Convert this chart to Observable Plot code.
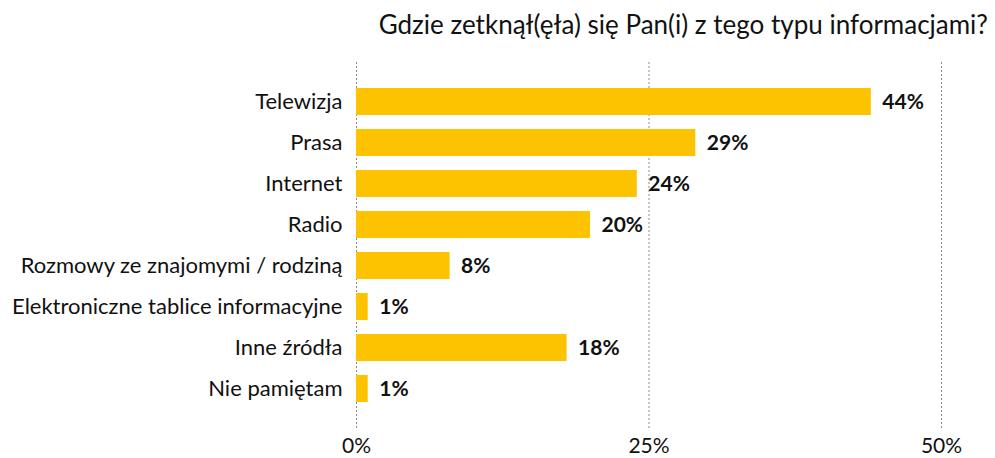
<!DOCTYPE html>
<html>
<head>
<meta charset="utf-8">
<script src="https://cdn.jsdelivr.net/npm/d3@7"></script>
<script src="https://cdn.jsdelivr.net/npm/@observablehq/plot@0.6"></script>
<style>
  html, body { margin: 0; padding: 0; background: #fff; }
  body { width: 995px; height: 458px; overflow: hidden; font-family: Lato, "Noto Sans", sans-serif; }
  #title { height: 60px; box-sizing: border-box; text-align: right; padding-right: 7px; padding-top: 9px; font-size: 26px; color: #111; line-height: 30px; white-space: nowrap; }
  svg { display: block; }
</style>
</head>
<body>
<div id="title">Gdzie zetknął(ęła) się Pan(i) z tego typu informacjami?</div>
<div id="chart"></div>
<script>
const categories = [
  "Telewizja",
  "Prasa",
  "Internet",
  "Radio",
  "Rozmowy ze znajomymi / rodziną",
  "Elektroniczne tablice informacyjne",
  "Inne źródła",
  "Nie pamiętam"
];
const values = [44, 29, 24, 20, 8, 1, 18, 1];
const ticks = [0, 25, 50];
const tickLabels = ["0%", "25%", "50%"];

const data = categories.map((c, i) => ({category: c, value: values[i]}));

const chart = Plot.plot({
  width: 995,
  height: 398,
  marginLeft: 356,
  marginRight: 54,
  marginTop: 2,
  marginBottom: 28,
  style: {fontFamily: "Lato, 'Noto Sans', sans-serif", color: "#111", background: "#fff"},
  x: {domain: [0, 50], ticks: ticks, tickFormat: (d) => tickLabels[ticks.indexOf(d)], tickSize: 0, tickPadding: 8, label: null},
  y: {domain: categories, padding: 0.35, insetTop: 10, insetBottom: 12, tickSize: 0, tickPadding: 14, label: null},
  marks: [
    Plot.ruleX(ticks, {stroke: "#8a8a8a", strokeWidth: 1, strokeDasharray: "2,2"}),
    Plot.barX(data, {x: "value", y: "category", fill: "#FDC300"}),
    Plot.text(data, {x: "value", y: "category", text: (d) => d.value + "%", textAnchor: "start", dx: 11, fontSize: 21, fontWeight: "bold", fill: "#111"}),
    Plot.axisX({ticks: ticks, tickFormat: (d) => tickLabels[ticks.indexOf(d)], tickSize: 0, tickPadding: 8, fontSize: 21, label: null}),
    Plot.axisY({tickSize: 0, tickPadding: 14, fontSize: 22, label: null})
  ]
});
document.getElementById("chart").appendChild(chart);
</script>
</body>
</html>
